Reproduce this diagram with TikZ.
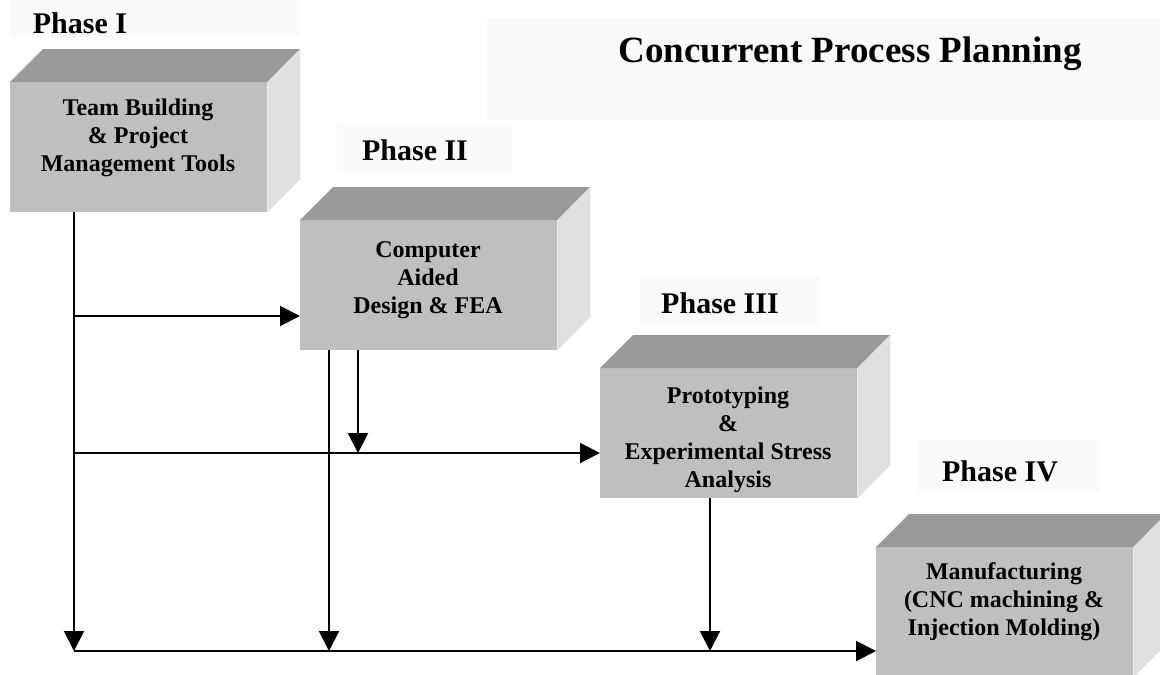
\documentclass[tikz,border=0pt]{standalone}
\usepackage{fontspec}
\setmainfont{Liberation Serif}
\usetikzlibrary{arrows.meta}
\usetikzlibrary{positioning}

\tikzset{
  front/.style={fill=black!25, minimum width=257pt, minimum height=130pt, inner sep=0pt, anchor=north west},
  topface/.style={fill=black!40},
  sideface/.style={fill=black!12},
  labelbg/.style={fill=black!2},
  boxtext/.style={align=center, font=\fontsize{24}{28}\selectfont\bfseries},
  phase/.style={font=\fontsize{30}{34}\selectfont\bfseries},
  flow/.style={line width=2pt, -{Triangle[length=20pt,width=20pt]}}
}

% Box with top and side faces
\newcommand{\phasebox}[3]{%
  \node[front] (#1) at (#2,#3) {};
  \fill[topface] (#1.north west) -- ++(33,-33) -- ++(257,0) -- (#1.north east) -- cycle;
  \fill[sideface] (#1.north east) -- ++(33,-33) -- ++(0,130) -- (#1.south east) -- cycle;
}

\begin{document}
\begin{tikzpicture}[x=1pt, y=-1pt]

\useasboundingbox (0,0) rectangle (1160,675);

% Label backgrounds
\fill[labelbg] (487,18) rectangle (1160,120);
\fill[labelbg] (10,0) rectangle (300,37);
\fill[labelbg] (337,123) rectangle (512,172);
\fill[labelbg] (640,275) rectangle (820,327);
\fill[labelbg] (918,440) rectangle (1100,493);

% Title and phase labels
\node[anchor=base, font=\fontsize{37}{42}\selectfont\bfseries] (title) at (850,62) {Concurrent Process Planning};
\node[phase] (p1) at (80,23) {Phase I};
\node[phase] (p2) at (415,150) {Phase II};
\node[phase] (p3) at (720,303) {Phase III};
\node[phase] (p4) at (1000,471) {Phase IV};

% Boxes
\phasebox{b1}{10}{82}
\phasebox{b2}{300}{220}
\phasebox{b3}{600}{368}
\phasebox{b4}{876}{547}

\node[boxtext] (t1) at (138,138) {Team Building\\ \& Project\\ Management Tools};
\node[boxtext] (t2) at (428,280) {Computer\\ Aided\\ Design \& FEA};
\node[boxtext] (t3) at (728,440) {Prototyping\\ \&\\ Experimental Stress\\ Analysis};
\node[boxtext] (t4) at (1004,602) {Manufacturing\\ (CNC machining \&\\ Injection Molding)};

% Connectors
\coordinate (a1) at ([xshift=64pt]b1.south west);
\coordinate (k1) at (74,316);
\coordinate (k2) at (74,453);
\coordinate (bot) at (74,651);
\coordinate (a2) at ([xshift=29pt]b2.south west);
\coordinate (a3) at ([xshift=58pt]b2.south west);
\coordinate (a4) at ([xshift=110pt]b3.south west);

\draw[flow] (a1) -- (bot);
\draw[flow] (k1) -- (k1 -| b2.west);
\draw[flow] (k2) -- (k2 -| b3.west);
\draw[flow] (bot) -- (bot -| b4.west);
\draw[flow] (a2) -- (a2 |- bot);
\draw[flow] (a3) -- (a3 |- k2);
\draw[flow] (a4) -- (a4 |- bot);

\end{tikzpicture}
\end{document}
